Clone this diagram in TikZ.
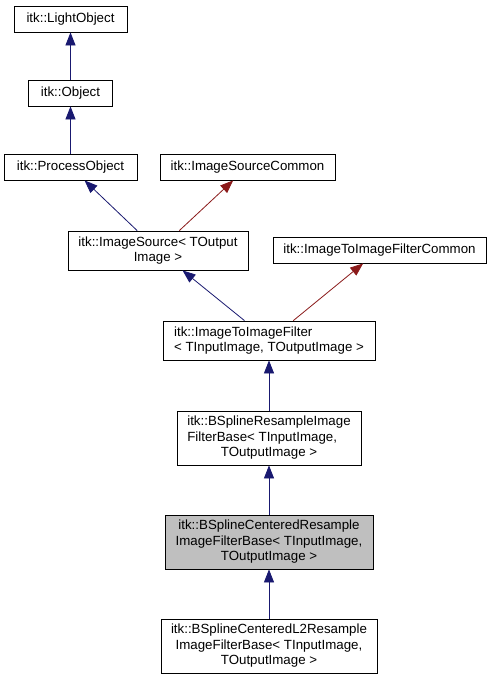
\documentclass[tikz,border=0pt]{standalone}
\usepackage{fontspec}
\setmainfont{Liberation Sans}
\usetikzlibrary{arrows.meta, positioning}
\definecolor{edgeblue}{RGB}{25, 25, 112}
\definecolor{edgered}{RGB}{139, 26, 26}
\definecolor{nodegray}{RGB}{191, 191, 191}

\begin{document}
\begin{tikzpicture}[
        % --- GENERAL SETUP ---
        x=1pt, y=-1pt,
        % Style for class boxes
        classnode/.style={
            draw=black,
            fill=white,
            line width=0.8pt,
            font={\fontsize{13.3}{15.5}\selectfont},
            inner sep=0pt,
            align=center
        },
        % Style for the documented class
        curnode/.style={classnode, fill=nodegray},
        % Style for public inheritance edges
        pubedge/.style={
            -{Triangle[length=13pt, width=10pt]}, edgeblue, line width=0.8pt
        },
        % Style for template instance edges
        tpledge/.style={
            -{Triangle[length=13pt, width=10pt]}, edgered, line width=0.8pt
        }
    ]

        \useasboundingbox[fill=white] (0,0) rectangle (492,680);

        % ==========================================
        % TOP: BASE CLASSES
        % ==========================================
        \node[classnode, minimum width=113pt, minimum height=26pt] (lightobj) at (70.5,19) {itk::LightObject};
        \node[classnode, minimum width=84pt, minimum height=26pt] (object) at (70.5,93) {itk::Object};
        \node[classnode, minimum width=133pt, minimum height=26pt] (procobj) at (70.5,167) {itk::ProcessObject};
        \node[classnode, minimum width=175pt, minimum height=26pt] (srccommon) at (247.5,167) {itk::ImageSourceCommon};

        % ==========================================
        % MIDDLE: IMAGE SOURCE / FILTER
        % ==========================================
        \node[classnode, minimum width=180pt, minimum height=39pt] (imgsource) at (158,250.5) {itk::ImageSource< TOutput\\Image >};
        \node[classnode, minimum width=213pt, minimum height=26pt] (filtcommon) at (379.5,250) {itk::ImageToImageFilterCommon};
        \node[classnode, align=left, minimum width=212pt, minimum height=39pt] (imgfilter) at (269,340.5) {itk::ImageToImageFilter\\< TInputImage, TOutputImage >};

        % ==========================================
        % BOTTOM: B-SPLINE FILTERS
        % ==========================================
        \node[classnode, minimum width=184pt, minimum height=54pt] (bsresample) at (269,438) {%
            \begin{tabular}{@{}l@{}}
                itk::BSplineResampleImage\\
                FilterBase< TInputImage,\\
                \multicolumn{1}{@{}c@{}}{TOutputImage >}
            \end{tabular}};
        \node[curnode, minimum width=208pt, minimum height=54pt] (bscentered) at (269,542) {itk::BSplineCenteredResample\\ImageFilterBase< TInputImage,\\TOutputImage >};
        \node[classnode, minimum width=216pt, minimum height=54pt] (bscenteredl2) at (269,646) {itk::BSplineCenteredL2Resample\\ImageFilterBase< TInputImage,\\TOutputImage >};

        % ==========================================
        % INHERITANCE EDGES
        % ==========================================
        \draw[pubedge] (object) -- (lightobj);
        \draw[pubedge] (procobj) -- (object);
        \draw[pubedge] (imgsource) -- (procobj);
        \draw[tpledge] (imgsource) -- (srccommon);
        \draw[pubedge] (imgfilter) -- (imgsource);
        \draw[tpledge] (imgfilter) -- (filtcommon);
        \draw[pubedge] (bsresample) -- (imgfilter);
        \draw[pubedge] (bscentered) -- (bsresample);
        \draw[pubedge] (bscenteredl2) -- (bscentered);

    \end{tikzpicture}
\end{document}
